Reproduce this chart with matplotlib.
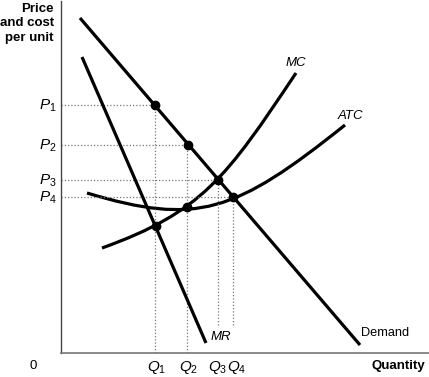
import numpy as np
import matplotlib
matplotlib.use('Agg')
import matplotlib.pyplot as plt
from matplotlib.path import Path
from matplotlib.patches import PathPatch

plt.rcParams['font.family'] = ['Liberation Sans', 'DejaVu Sans']
plt.rcParams['mathtext.fontset'] = 'custom'
plt.rcParams['mathtext.it'] = 'Liberation Sans:italic'
plt.rcParams['mathtext.rm'] = 'Liberation Sans'

# straight lines (quantity, price)
demand_x = [19, 299]
demand_y = [335, 8]
mr_x = [21, 145]
mr_y = [296, 10]
# curves: start, two bezier handles, end
mc_x = [41, 141, 165, 235]
mc_y = [105, 141, 175, 280]
atc_x = [26, 136, 174, 284]
atc_y = [160, 127, 140, 228]

# marked points
q_vals = [94, 126, 157, 172]
p_vals = [248, 208, 173, 156]
q_labels = ['$Q_1$', '$Q_2$', '$Q_3$', '$Q_4$']
q_shift = [1.5, 1.5, -0.5, 3.5]
p_labels = ['$P_1$', '$P_2$', '$P_3$', '$P_4$']
dot_x = [94, 127, 157, 172, 126, 95]
dot_y = [248, 208, 173, 156, 146, 127]
q_drop_end = [0, 0, 28, 28]

fig = plt.figure(figsize=(4.29, 3.77), dpi=100)
ax = fig.add_axes([61/429, 24/377, 368/429, 352/377])
ax.set_xlim(0, 368)
ax.set_ylim(0, 352)

dot_style = dict(color='#777777', lw=0.9, linestyle=(0, (1, 1.6)))
for q, p, lo in zip(q_vals, p_vals, q_drop_end):
    ax.plot([0, q], [p, p], **dot_style)
    ax.plot([q, q], [lo, p], **dot_style)

lw = 2.3
ax.plot(demand_x, demand_y, color='black', lw=lw, solid_capstyle='butt')
ax.plot(mr_x, mr_y, color='black', lw=lw, solid_capstyle='butt')

codes = [Path.MOVETO, Path.CURVE4, Path.CURVE4, Path.CURVE4]
for cx, cy in [(mc_x, mc_y), (atc_x, atc_y)]:
    path = Path(list(zip(cx, cy)), codes)
    ax.add_patch(PathPatch(path, facecolor='none', edgecolor='black',
                           lw=lw, capstyle='butt'))

ax.plot(dot_x, dot_y, 'o', color='black', markersize=6, zorder=5)

for s in ['top', 'right']:
    ax.spines[s].set_visible(False)
ax.spines['left'].set_color('#444444')
ax.spines['bottom'].set_color('#777777')
ax.spines['left'].set_linewidth(1.0)
ax.spines['bottom'].set_linewidth(1.2)
ax.set_xticks([])
ax.set_yticks([])

for p, lab in zip(p_vals, p_labels):
    ax.text(-4, p - 1, lab, ha='right', va='center', fontsize=11, clip_on=False)
for q, lab, dx in zip(q_vals, q_labels, q_shift):
    ax.text(q + dx, -6, lab, ha='center', va='top', fontsize=11, clip_on=False)

ax.text(-28, -7, '0', ha='center', va='top', fontsize=9.5, clip_on=False)
ax.text(364, -7, 'Quantity', ha='right', va='top', fontsize=9.5,
        fontweight='bold', clip_on=False)
ax.text(-7, 350, 'Price\nand cost\nper unit', ha='right', va='top',
        fontsize=9.5, fontweight='bold', linespacing=1.25, clip_on=False)

ax.text(235, 290, 'MC', ha='center', va='center', fontsize=9.5, style='italic')
ax.text(289, 237, 'ATC', ha='center', va='center', fontsize=9.5, style='italic')
ax.text(150, 16, 'MR', ha='left', va='center', fontsize=9.5, style='italic')
ax.text(300, 20, 'Demand', ha='left', va='center', fontsize=9.2)

fig.savefig('out.png', dpi=100)
